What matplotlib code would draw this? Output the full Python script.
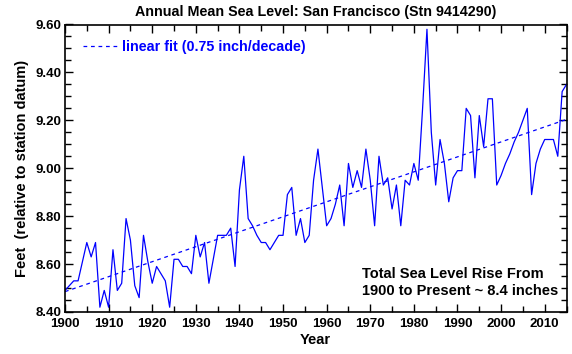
import matplotlib.pyplot as plt
import numpy as np
from matplotlib.ticker import MultipleLocator, FormatStrFormatter

years = list(range(1900, 2016))
msl = [8.49, 8.51, 8.53, 8.53, 8.61, 8.69, 8.63, 8.69, 8.42, 8.49,
       8.42, 8.66, 8.49, 8.52, 8.79, 8.70, 8.51, 8.46, 8.72, 8.61,
       8.52, 8.59, 8.56, 8.53, 8.42, 8.62, 8.62, 8.59, 8.59, 8.56,
       8.72, 8.63, 8.69, 8.52, 8.62, 8.72, 8.72, 8.72, 8.75, 8.59,
       8.91, 9.05, 8.79, 8.76, 8.72, 8.69, 8.69, 8.66, 8.69, 8.72,
       8.72, 8.89, 8.92, 8.72, 8.79, 8.69, 8.72, 8.95, 9.08, 8.92,
       8.76, 8.79, 8.85, 8.93, 8.76, 9.02, 8.92, 8.99, 8.92, 9.08,
       8.95, 8.76, 9.05, 8.93, 8.96, 8.83, 8.93, 8.76, 8.95, 8.93,
       9.02, 8.95, 9.25, 9.58, 9.15, 8.93, 9.12, 9.02, 8.86, 8.96,
       8.99, 8.99, 9.25, 9.22, 8.96, 9.22, 9.09, 9.29, 9.29, 8.93,
       8.97, 9.02, 9.06, 9.11, 9.15, 9.20, 9.25, 8.89, 9.02, 9.08,
       9.12, 9.12, 9.12, 9.05, 9.32, 9.35]

# linear fit: 0.75 inch/decade
fit_start = 8.485
fit_slope = 0.75 / 12 / 10  # ft per year

title = 'Annual Mean Sea Level: San Francisco (Stn 9414290)'
note = 'Total Sea Level Rise From\n1900 to Present ~ 8.4 inches'

plt.rcParams['font.family'] = ['Liberation Sans', 'DejaVu Sans']
plt.rcParams['font.weight'] = 'bold'

fig = plt.figure(figsize=(5.72, 3.54), dpi=100)
ax = fig.add_axes([65 / 572, 42 / 354, 501.5 / 572, 287.5 / 354])

yrs = np.array(years)
ax.plot(yrs, msl, color='#0000ff', lw=0.9)
fit = fit_start + fit_slope * (yrs - 1900)
ax.plot(yrs, fit, color='#0000ff', lw=0.9, ls=(0, (3, 3)),
        label='linear fit (0.75 inch/decade)')

ax.set_xlim(1900, 2015)
ax.set_ylim(8.40, 9.60)
ax.xaxis.set_major_locator(MultipleLocator(10))
ax.xaxis.set_minor_locator(MultipleLocator(5))
ax.yaxis.set_major_locator(MultipleLocator(0.2))
ax.yaxis.set_minor_locator(MultipleLocator(0.05))
ax.yaxis.set_major_formatter(FormatStrFormatter('%.2f'))
ax.tick_params(which='both', direction='in', top=True, right=True,
               labelsize=9.5, width=1)
ax.tick_params(which='major', length=5.5)
ax.tick_params(which='minor', length=4)
ax.tick_params(axis='x', which='major', pad=4.5)
ax.tick_params(axis='y', which='major', pad=2.5)
for lbl in ax.get_xticklabels() + ax.get_yticklabels():
    lbl.set_fontweight('bold')
for s in ax.spines.values():
    s.set_linewidth(1.2)

ax.set_title(title, fontsize=10.3, fontweight='bold', pad=6)
ax.set_xlabel('Year', fontsize=10.5, fontweight='bold', labelpad=2)
ax.set_ylabel('Feet  (relative to station datum)', fontsize=10.5,
              fontweight='bold', labelpad=5)

leg = ax.legend(loc='upper left', frameon=False, fontsize=10.3,
                handlelength=2.45, handletextpad=0.25, borderaxespad=0,
                bbox_to_anchor=(0.0245, 0.967))
for t in leg.get_texts():
    t.set_color('#0000ff')
    t.set_fontweight('bold')

ax.text(0.592, 0.049, note, transform=ax.transAxes, fontsize=10.5,
        fontweight='bold', ha='left', va='bottom', linespacing=1.25)

fig.savefig('out.png', dpi=100)
